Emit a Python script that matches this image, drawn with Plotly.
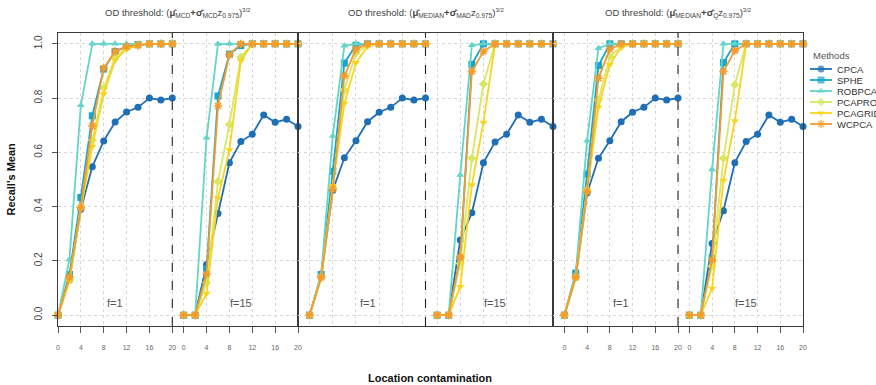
import plotly.graph_objects as go

# Contamination levels (shared by both halves of every panel)
x_levels = [0, 2, 4, 6, 8, 10, 12, 14, 16, 18, 20]
x_tick_labels = ["0", "4", "8", "12", "16", "20"]
y_tick_labels = ["0.0", "0.2", "0.4", "0.6", "0.8", "1.0"]

methods = ["CPCA", "SPHE", "ROBPCA", "PCAPROJ", "PCAGRID", "WCPCA"]
colors = ["#1F6FB6", "#18A4CC", "#62D4C8", "#D6E866", "#F8D41E", "#F59B2C"]
symbols = ["circle", "square", "triangle-up", "diamond", "triangle-down", "asterisk-open"]

EXP = "<sup><span style='font-size:6px'>3/2</span></sup>"
panel_titles = [
    "OD threshold: (<b>μ̂</b><sub>MCD</sub><b>+</b><b>σ̂</b><sub>MCD</sub>z<sub>0.975</sub>)" + EXP,
    "OD threshold: (<b>μ̂</b><sub>MEDIAN</sub><b>+</b><b>σ̂</b><sub>MAD</sub>z<sub>0.975</sub>)" + EXP,
    "OD threshold: (<b>μ̂</b><sub>MEDIAN</sub><b>+</b><b>σ̂</b><sub>Q</sub>z<sub>0.975</sub>)" + EXP,
]

# --- MCD threshold ---
mcd_f1_cpca = [0, 0.13, 0.39, 0.547, 0.642, 0.712, 0.749, 0.766, 0.80, 0.793, 0.80]
mcd_f1_sphe = [0, 0.15, 0.434, 0.735, 0.907, 0.972, 0.99, 0.997, 1, 1, 1]
mcd_f1_robpca = [0, 0.205, 0.774, 1, 1, 1, 1, 1, 1, 1, 1]
mcd_f1_pcaproj = [0, 0.13, 0.40, 0.645, 0.837, 0.95, 0.985, 0.995, 1, 1, 1]
mcd_f1_pcagrid = [0, 0.125, 0.39, 0.622, 0.815, 0.94, 0.98, 0.995, 1, 1, 1]
mcd_f1_wcpca = [0, 0.14, 0.397, 0.697, 0.91, 0.972, 0.99, 0.995, 1, 1, 1]

mcd_f15_cpca = [0, 0, 0.187, 0.375, 0.562, 0.64, 0.667, 0.738, 0.711, 0.722, 0.695]
mcd_f15_sphe = [0, 0, 0.17, 0.808, 0.962, 0.994, 1, 1, 1, 1, 1]
mcd_f15_robpca = [0, 0, 0.654, 0.999, 1, 1, 1, 1, 1, 1, 1]
mcd_f15_pcaproj = [0, 0, 0.12, 0.492, 0.703, 0.951, 1, 1, 1, 1, 1]
mcd_f15_pcagrid = [0, 0, 0.08, 0.433, 0.609, 0.938, 1, 1, 1, 1, 1]
mcd_f15_wcpca = [0, 0, 0.151, 0.771, 0.96, 1, 1, 1, 1, 1, 1]

# --- MEDIAN / MAD threshold ---
mad_f1_cpca = [0, 0.14, 0.46, 0.58, 0.643, 0.713, 0.748, 0.766, 0.80, 0.793, 0.80]
mad_f1_sphe = [0, 0.15, 0.53, 0.929, 0.995, 1, 1, 1, 1, 1, 1]
mad_f1_robpca = [0, 0.15, 0.66, 0.993, 1, 1, 1, 1, 1, 1, 1]
mad_f1_pcaproj = [0, 0.14, 0.47, 0.83, 0.966, 0.995, 1, 1, 1, 1, 1]
mad_f1_pcagrid = [0, 0.135, 0.477, 0.78, 0.93, 0.99, 1, 1, 1, 1, 1]
mad_f1_wcpca = [0, 0.14, 0.465, 0.882, 0.98, 1, 1, 1, 1, 1, 1]

mad_f15_cpca = [0, 0, 0.277, 0.377, 0.562, 0.638, 0.667, 0.738, 0.711, 0.722, 0.695]
mad_f15_sphe = [0, 0, 0.21, 0.925, 1, 1, 1, 1, 1, 1, 1]
mad_f15_robpca = [0, 0, 0.517, 0.995, 1, 1, 1, 1, 1, 1, 1]
mad_f15_pcaproj = [0, 0, 0.19, 0.578, 0.852, 1, 1, 1, 1, 1, 1]
mad_f15_pcagrid = [0, 0, 0.105, 0.48, 0.71, 1, 1, 1, 1, 1, 1]
mad_f15_wcpca = [0, 0, 0.213, 0.898, 0.972, 1, 1, 1, 1, 1, 1]

# --- MEDIAN / Qn threshold ---
qn_f1_cpca = [0, 0.14, 0.45, 0.578, 0.643, 0.713, 0.748, 0.766, 0.80, 0.793, 0.80]
qn_f1_sphe = [0, 0.155, 0.52, 0.92, 1, 1, 1, 1, 1, 1, 1]
qn_f1_robpca = [0, 0.15, 0.643, 0.984, 1, 1, 1, 1, 1, 1, 1]
qn_f1_pcaproj = [0, 0.14, 0.46, 0.793, 0.953, 0.99, 1, 1, 1, 1, 1]
qn_f1_pcagrid = [0, 0.135, 0.46, 0.766, 0.923, 0.988, 1, 1, 1, 1, 1]
qn_f1_wcpca = [0, 0.14, 0.455, 0.873, 0.98, 1, 1, 1, 1, 1, 1]

qn_f15_cpca = [0, 0, 0.264, 0.385, 0.562, 0.64, 0.667, 0.738, 0.711, 0.722, 0.695]
qn_f15_sphe = [0, 0, 0.209, 0.931, 1, 1, 1, 1, 1, 1, 1]
qn_f15_robpca = [0, 0, 0.537, 1, 1, 1, 1, 1, 1, 1, 1]
qn_f15_pcaproj = [0, 0, 0.18, 0.578, 0.849, 1, 1, 1, 1, 1, 1]
qn_f15_pcagrid = [0, 0, 0.098, 0.496, 0.716, 1, 1, 1, 1, 1, 1]
qn_f15_wcpca = [0, 0, 0.203, 0.898, 0.975, 1, 1, 1, 1, 1, 1]

panels = [
    ([mcd_f1_cpca, mcd_f1_sphe, mcd_f1_robpca, mcd_f1_pcaproj, mcd_f1_pcagrid, mcd_f1_wcpca],
     [mcd_f15_cpca, mcd_f15_sphe, mcd_f15_robpca, mcd_f15_pcaproj, mcd_f15_pcagrid, mcd_f15_wcpca]),
    ([mad_f1_cpca, mad_f1_sphe, mad_f1_robpca, mad_f1_pcaproj, mad_f1_pcagrid, mad_f1_wcpca],
     [mad_f15_cpca, mad_f15_sphe, mad_f15_robpca, mad_f15_pcaproj, mad_f15_pcagrid, mad_f15_wcpca]),
    ([qn_f1_cpca, qn_f1_sphe, qn_f1_robpca, qn_f1_pcaproj, qn_f1_pcagrid, qn_f1_wcpca],
     [qn_f15_cpca, qn_f15_sphe, qn_f15_robpca, qn_f15_pcaproj, qn_f15_pcagrid, qn_f15_wcpca]),
]

# second half of each panel (f=15) is drawn shifted right on the same axis
OFFSET = 22
W, H = 876, 385
FONT = "Liberation Sans, Arial, sans-serif"
FRAME = "#3a3a3a"
GRID = "#d8d8d8"

x_domains = [(58 / W, 298 / W), (298 / W, 553 / W), (553 / W, 803 / W)]
x_ranges = [[0, 42], [-2, 42], [-2, 42]]
y_domain = (1 - 326 / H, 1 - 33 / H)

fig = go.Figure()

for p, (half1, half15) in enumerate(panels):
    xa = "x" if p == 0 else f"x{p + 1}"
    ya = "y" if p == 0 else f"y{p + 1}"
    for m, name in enumerate(methods):
        for vals, shift in [(half1, 0), (half15, OFFSET)]:
            fig.add_trace(go.Scatter(
                x=[v + shift for v in x_levels],
                y=vals[m],
                mode="lines+markers",
                name=name,
                showlegend=False,
                line=dict(color=colors[m], width=1.8),
                marker=dict(symbol=symbols[m], size=7, color=colors[m],
                            line=dict(color=colors[m], width=1.6 if m == 5 else 0)),
                xaxis=xa, yaxis=ya,
                cliponaxis=False,
            ))

# Compact key on its own pixel-scaled axis (x: 806..876, y: 0..385 top-down)
KEY_ROW0, KEY_STEP = 69, 11
for m, name in enumerate(methods):
    ry = KEY_ROW0 + KEY_STEP * m
    fig.add_trace(go.Scatter(
        x=[810, 821, 832], y=[ry, ry, ry], mode="lines+markers",
        line=dict(color=colors[m], width=1.8),
        marker=dict(symbol=symbols[m], size=[0, 7, 0], color=colors[m],
                    line=dict(color=colors[m], width=1.6 if m == 5 else 0)),
        xaxis="x4", yaxis="y4", showlegend=False, hoverinfo="skip",
        cliponaxis=False,
    ))

grid_vals = [0, 4, 8, 12, 16, 20, 22, 26, 30, 34, 38, 42]
tick_text = x_tick_labels + x_tick_labels

layout = dict(
    width=W, height=H,
    margin=dict(l=0, r=0, t=0, b=0, autoexpand=False),
    paper_bgcolor="white", plot_bgcolor="rgba(0,0,0,0)",
    font=dict(family=FONT, color="#444444", size=10),
    showlegend=False,
    xaxis4=dict(domain=[806 / W, 1], range=[806, 876], visible=False, fixedrange=True),
    yaxis4=dict(domain=[0, 1], range=[385, 0], visible=False, fixedrange=True, anchor="x4"),
)

for p in range(3):
    sx = "" if p == 0 else str(p + 1)
    show_x = p != 1
    layout[f"xaxis{sx}"] = dict(
        domain=list(x_domains[p]), range=x_ranges[p], anchor=f"y{sx}",
        tickmode="array", tickvals=grid_vals, ticktext=tick_text,
        showticklabels=show_x, ticks="outside" if show_x else "",
        ticklen=6, tickcolor="#555555", tickwidth=1,
        tickfont=dict(size=7, color="#666666"), ticklabelstandoff=8,
        showgrid=True, gridcolor=GRID, griddash="dot", gridwidth=1,
        showline=True, mirror=True, linecolor=FRAME, linewidth=1.3,
        zeroline=False, fixedrange=True,
    )
    layout[f"yaxis{sx}"] = dict(
        domain=list(y_domain), range=[-0.04, 1.04], anchor=f"x{sx}",
        tickmode="array", tickvals=[0, 0.2, 0.4, 0.6, 0.8, 1.0], ticktext=y_tick_labels,
        showticklabels=(p == 0), ticks="outside" if p == 0 else "",
        ticklen=5, tickcolor="#555555", tickangle=-90,
        tickfont=dict(size=10, color="#444444"), ticklabelstandoff=6,
        showgrid=True, gridcolor=GRID, griddash="dot", gridwidth=1,
        showline=True, mirror=True, linecolor=FRAME, linewidth=1.3,
        zeroline=False, fixedrange=True,
    )

fig.update_layout(**layout)

shapes = []
annotations = []
for p in range(3):
    sx = "" if p == 0 else str(p + 1)
    shapes.append(dict(type="line", xref=f"x{sx}", yref=f"y{sx} domain",
                       x0=20, x1=20, y0=0, y1=1,
                       line=dict(color="#222222", width=1.1, dash="dash")))
    annotations.append(dict(xref=f"x{sx}", yref=f"y{sx}", x=10, y=0.045,
                            text="f=1", showarrow=False, xanchor="center",
                            font=dict(size=11, color="#555555")))
    annotations.append(dict(xref=f"x{sx}", yref=f"y{sx}", x=OFFSET + 10, y=0.045,
                            text="f=15", showarrow=False, xanchor="center",
                            font=dict(size=11, color="#555555")))
    cx = (x_domains[p][0] + x_domains[p][1]) / 2
    annotations.append(dict(xref="paper", yref="paper", x=cx, y=1 - 13 / H,
                            xanchor="center", yanchor="middle",
                            text=panel_titles[p], showarrow=False,
                            font=dict(size=9.5, color="#444444")))

# key title and labels
annotations.append(dict(xref="x4", yref="y4", x=831, y=55, text="Methods",
                        showarrow=False, xanchor="center",
                        font=dict(size=9.5, color="#555555")))
for m, name in enumerate(methods):
    annotations.append(dict(xref="x4", yref="y4", x=835, y=KEY_ROW0 + KEY_STEP * m,
                            text=name, showarrow=False, xanchor="left",
                            font=dict(size=9.5, color="#333333")))

annotations.append(dict(xref="paper", yref="paper", x=430 / W, y=1 - 378 / H,
                        xanchor="center", yanchor="middle",
                        text="<b>Location contamination</b>", showarrow=False,
                        font=dict(size=11, color="#111111")))
annotations.append(dict(xref="paper", yref="paper", x=10 / W, y=(y_domain[0] + y_domain[1]) / 2,
                        xanchor="center", yanchor="middle",
                        text="<b>Recall's Mean</b>", showarrow=False, textangle=-90,
                        font=dict(size=11, color="#111111")))

fig.update_layout(shapes=shapes, annotations=annotations)
fig.write_html("out.html")
